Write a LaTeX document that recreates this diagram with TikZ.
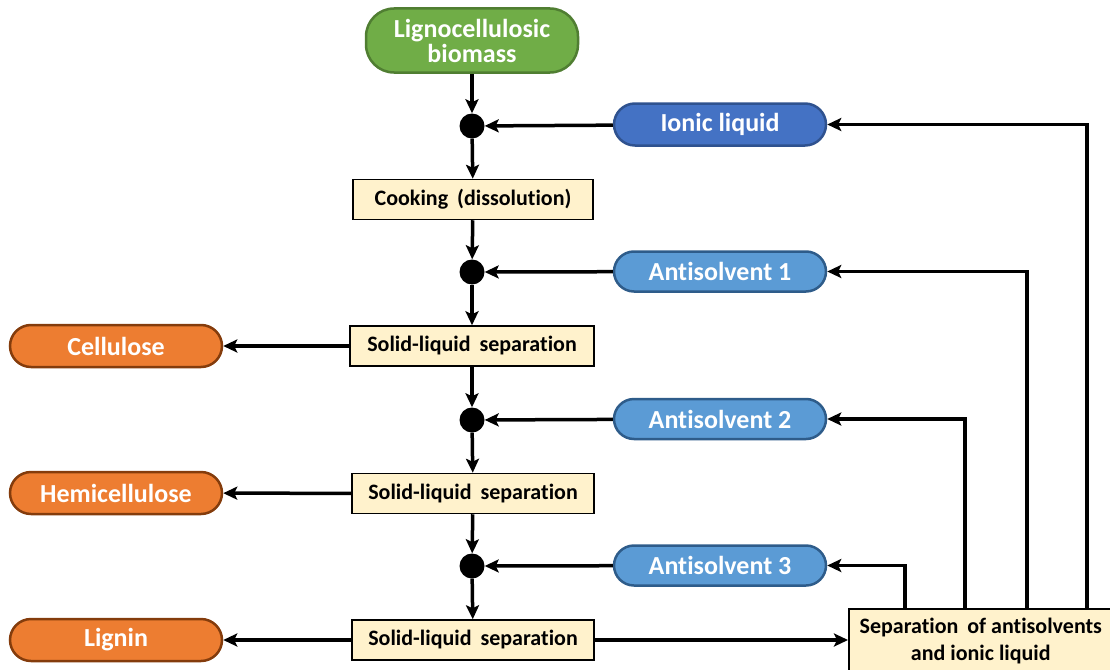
\documentclass[tikz,border=0pt]{standalone}
\usepackage{fontspec}
\setmainfont{Carlito}[Ligatures=CommonOff]
\usetikzlibrary{arrows.meta}
\definecolor{gfill}{HTML}{70AD47}
\definecolor{gdraw}{HTML}{507E32}
\definecolor{ofill}{HTML}{ED7D31}
\definecolor{odraw}{HTML}{843C0C}
\definecolor{bfill}{HTML}{4472C4}
\definecolor{bdraw}{HTML}{2F528F}
\definecolor{lbfill}{HTML}{5B9BD5}
\definecolor{lbdraw}{HTML}{2E5C8A}
\definecolor{boxfill}{HTML}{FFF2CC}
\tikzset{
  pill/.style={rounded corners=21pt, line width=2.5pt, minimum width=212pt, minimum height=42pt,
    text=white, font=\fontsize{26}{25}\selectfont\bfseries, align=center, inner sep=0pt},
  green/.style={pill, fill=gfill, draw=gdraw, rounded corners=28pt, minimum height=64pt},
  orange/.style={pill, fill=ofill, draw=odraw},
  blue/.style={pill, fill=bfill, draw=bdraw},
  lblue/.style={pill, fill=lbfill, draw=lbdraw, minimum height=40pt, rounded corners=20pt},
  proc/.style={draw=black, line width=1.5pt, fill=boxfill, minimum height=40pt,
    font=\fontsize{22}{27}\selectfont\bfseries, align=center, inner sep=0pt},
  dot/.style={circle, fill=black, minimum size=25pt, inner sep=0pt},
  arr/.style={line width=3.5pt, -{Stealth[length=14pt, width=13pt, inset=3pt]}},
}
\begin{document}
\begin{tikzpicture}[x=1pt, y=-1pt]
\useasboundingbox (0,0) rectangle (1110,669);
\clip (0,0) rectangle (1110,669);
% main column
\node[green] (bio) at (472,40.5) {Lignocellulosic\\biomass};
\node[dot] (d1) at (472,126) {};
\node[proc, minimum width=240pt] (cook) at (473,199.5) {Cooking\hspace{4pt} (dissolution)};
\node[dot] (d2) at (472,272) {};
\node[proc, minimum width=244pt] (sl1) at (472,346) {Solid-liquid\hspace{4pt} separation};
\node[dot] (d3) at (472,420) {};
\node[proc, minimum width=242pt] (sl2) at (473,493.5) {Solid-liquid\hspace{4pt} separation};
\node[dot] (d4) at (472,566) {};
\node[proc, minimum width=242pt] (sl3) at (473,640) {Solid-liquid\hspace{4pt} separation};
% products
\node[orange] (cel) at (116,346) {Cellulose};
\node[orange] (hem) at (116,493) {Hemicellulose};
\node[orange] (lig) at (116,640) {Lignin};
% solvents
\node[blue] (il) at (720,124.5) {Ionic liquid};
\node[lblue] (as1) at (720,271.5) {Antisolvent 1};
\node[lblue] (as2) at (720,419) {Antisolvent 2};
\node[lblue] (as3) at (720,565.5) {Antisolvent 3};
% separation unit
\node[proc, minimum width=264pt, minimum height=64pt, anchor=north west] (sep) at (848,608)
  {Separation\hspace{4pt} of antisolvents\\and ionic liquid};
% main flow
\draw[arr] (bio) -- (d1);
\draw[arr] (d1) -- (cook);
\draw[arr] (cook) -- (d2);
\draw[arr] (d2) -- (sl1);
\draw[arr] (sl1) -- (d3);
\draw[arr] (d3) -- (sl2);
\draw[arr] (sl2) -- (d4);
\draw[arr] (d4) -- (sl3);
% solvent feeds
\draw[arr] (il) -- (d1);
\draw[arr] (as1) -- (d2);
\draw[arr] (as2) -- (d3);
\draw[arr] (as3) -- (d4);
% products
\draw[arr] (sl1) -- (cel);
\draw[arr] (sl2) -- (hem);
\draw[arr] (sl3) -- (lig);
\draw[arr] (sl3) -- (sl3 -| sep.west);
% recycle
\draw[arr] ([xshift=57pt]sep.north west) |- (as3);
\draw[arr] ([xshift=117pt]sep.north west) |- (as2);
\draw[arr] ([xshift=179pt]sep.north west) |- (as1);
\draw[arr] ([xshift=239pt]sep.north west) |- (il);
\end{tikzpicture}
\end{document}
